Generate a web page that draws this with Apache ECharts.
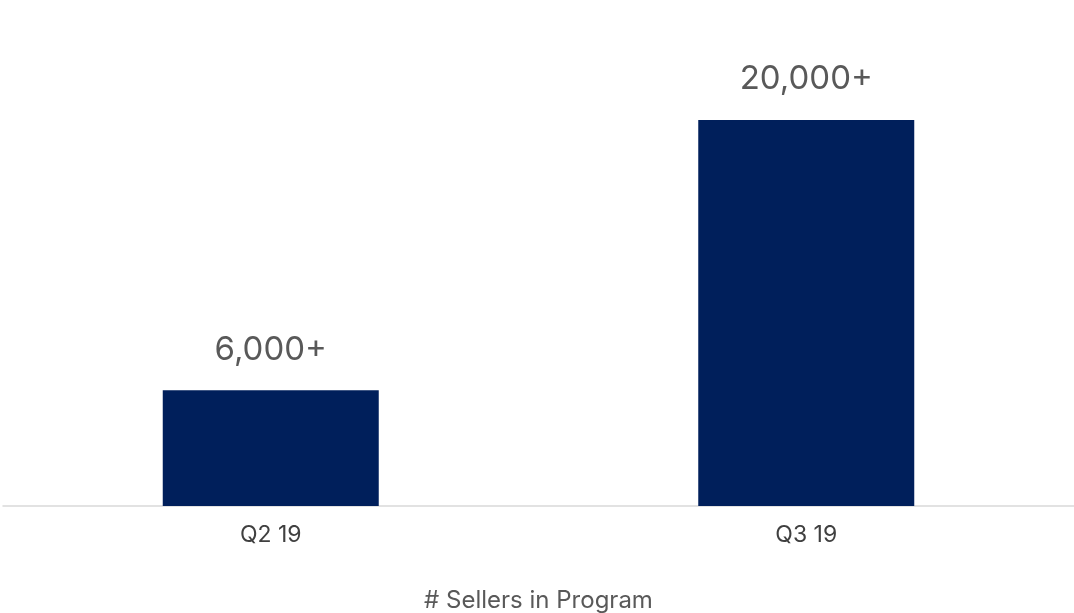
<!DOCTYPE html>
<html>
<head>
<meta charset="utf-8">
<script src="https://cdn.jsdelivr.net/npm/echarts@6/dist/echarts.min.js"></script>
<style>
  html, body { margin: 0; padding: 0; background: #ffffff; }
  #chart { width: 1074px; height: 613px; }
</style>
</head>
<body>
<div id="chart"></div>
<script>
// Sellers enrolled in the program, by quarter
const quarters = ['Q2 19', 'Q3 19'];
const sellers = [6000, 20000];
const valueLabels = ['6,000+', '20,000+'];
const axisTitle = '# Sellers in Program';

const chart = echarts.init(document.getElementById('chart'));
chart.setOption({
  backgroundColor: '#ffffff',
  animation: false,
  grid: { left: 3, right: 0, top: 120, bottom: 107, containLabel: false, outerBoundsMode: 'none' },
  xAxis: {
    type: 'category',
    data: quarters,
    name: axisTitle,
    nameLocation: 'middle',
    nameGap: 83,
    nameTextStyle: { color: '#595959', fontSize: 24, fontFamily: 'Inter' },
    axisLine: { show: true, lineStyle: { color: '#d9d9d9', width: 1.5 } },
    axisTick: { show: false },
    axisLabel: { color: '#404040', fontSize: 23, fontFamily: 'Inter', margin: 18 }
  },
  yAxis: {
    type: 'value',
    min: 0,
    max: 20000,
    show: false,
    splitLine: { show: false }
  },
  series: [{
    type: 'bar',
    data: sellers,
    barWidth: 216,
    itemStyle: { color: '#001f5b' },
    label: {
      show: true,
      position: 'top',
      distance: 24,
      color: '#595959',
      fontSize: 33,
      fontFamily: 'Inter',
      formatter: (p) => valueLabels[p.dataIndex]
    }
  }]
});
</script>
</body>
</html>
